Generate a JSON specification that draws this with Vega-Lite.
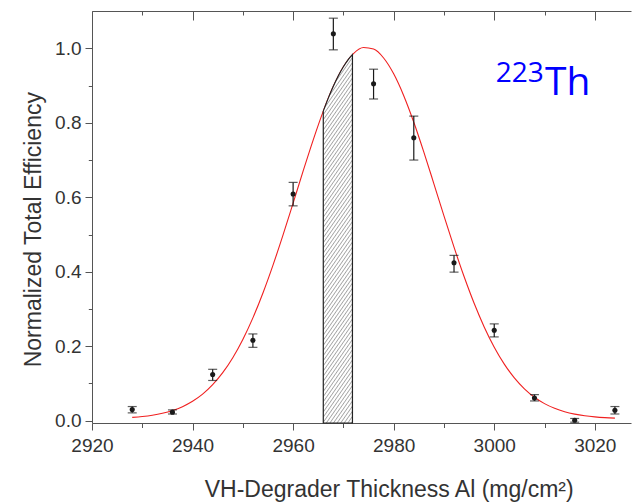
{
  "$schema": "https://vega.github.io/schema/vega-lite/v6.json",
  "width": 539,
  "height": 412,
  "autosize": {"type": "none"},
  "padding": {"left": 92, "top": 11, "right": 1, "bottom": 79},
  "background": "white",
  "config": {"view": {"stroke": null}, "font": "Liberation Sans"},
  "datasets": {
    "curve": [
      {"x": 2928, "y": 0.0089}, {"x": 2930, "y": 0.0112}, {"x": 2932, "y": 0.0147}, {"x": 2934, "y": 0.0199},
      {"x": 2936, "y": 0.0273}, {"x": 2938, "y": 0.0377}, {"x": 2940, "y": 0.0521}, {"x": 2942, "y": 0.0713},
      {"x": 2944, "y": 0.0966}, {"x": 2946, "y": 0.1289}, {"x": 2948, "y": 0.1691}, {"x": 2950, "y": 0.2181},
      {"x": 2952, "y": 0.2762}, {"x": 2954, "y": 0.343}, {"x": 2956, "y": 0.4179}, {"x": 2958, "y": 0.4991},
      {"x": 2960, "y": 0.5844}, {"x": 2962, "y": 0.6707}, {"x": 2964, "y": 0.7543}, {"x": 2966, "y": 0.8314},
      {"x": 2968, "y": 0.898}, {"x": 2970, "y": 0.9505}, {"x": 2972, "y": 0.9859}, {"x": 2974, "y": 1.0021},
      {"x": 2976, "y": 0.998}, {"x": 2978, "y": 0.974}, {"x": 2980, "y": 0.9315}, {"x": 2982, "y": 0.8729},
      {"x": 2984, "y": 0.8016}, {"x": 2986, "y": 0.7214}, {"x": 2988, "y": 0.6362}, {"x": 2990, "y": 0.55},
      {"x": 2992, "y": 0.466}, {"x": 2994, "y": 0.3871}, {"x": 2996, "y": 0.3153}, {"x": 2998, "y": 0.2519},
      {"x": 3000, "y": 0.1975}, {"x": 3002, "y": 0.152}, {"x": 3004, "y": 0.115}, {"x": 3006, "y": 0.0857},
      {"x": 3008, "y": 0.063}, {"x": 3010, "y": 0.0458}, {"x": 3012, "y": 0.0332}, {"x": 3014, "y": 0.024},
      {"x": 3016, "y": 0.0176}, {"x": 3018, "y": 0.0132}, {"x": 3020, "y": 0.0102}, {"x": 3022, "y": 0.0082},
      {"x": 3024, "y": 0.007}
    ],
    "band": [
      {"x": 2966, "y": 0.8314}, {"x": 2967, "y": 0.8663}, {"x": 2968, "y": 0.898}, {"x": 2969, "y": 0.9263},
      {"x": 2970, "y": 0.9505}, {"x": 2971, "y": 0.9705}, {"x": 2971.8, "y": 0.9832}
    ],
    "pts": [
      {"x": 2928, "y": 0.03, "lo": 0.021, "hi": 0.038},
      {"x": 2936, "y": 0.023, "lo": 0.018, "hi": 0.029},
      {"x": 2944, "y": 0.124, "lo": 0.108, "hi": 0.138},
      {"x": 2952, "y": 0.216, "lo": 0.197, "hi": 0.233},
      {"x": 2960, "y": 0.609, "lo": 0.577, "hi": 0.64},
      {"x": 2968, "y": 1.039, "lo": 0.996, "hi": 1.081},
      {"x": 2976, "y": 0.905, "lo": 0.864, "hi": 0.944},
      {"x": 2984, "y": 0.76, "lo": 0.7, "hi": 0.818},
      {"x": 2992, "y": 0.424, "lo": 0.399, "hi": 0.444},
      {"x": 3000, "y": 0.243, "lo": 0.225, "hi": 0.26},
      {"x": 3008, "y": 0.061, "lo": 0.053, "hi": 0.07},
      {"x": 3016, "y": 0.001, "lo": -0.004, "hi": 0.006},
      {"x": 3024, "y": 0.028, "lo": 0.018, "hi": 0.038}
    ]
  },
  "layer": [
    {
      "data": {"name": "curve"},
      "mark": {"type": "line", "color": "#f02020", "strokeWidth": 1.1, "interpolate": "monotone"},
      "encoding": {
        "x": {"field": "x", "type": "quantitative", "scale": {"domain": [2920, 3027.2], "nice": false, "zero": false},
          "axis": {"orient": "bottom", "values": [2920, 2940, 2960, 2980, 3000, 3020], "format": "d", "tickSize": 7, "tickColor": "#555", "tickWidth": 1,
            "domain": true, "domainColor": "#555", "domainWidth": 1, "grid": false, "labelFont": "Liberation Sans", "labelFontSize": 19, "labelColor": "#333",
            "labelPadding": 6, "labelFlush": false, "labelOverlap": false,
            "title": "VH-Degrader Thickness Al (mg/cm²)", "titleFont": "Liberation Sans", "titleFontSize": 23, "titleFontWeight": "normal", "titleColor": "#333",
            "titleX": 296.7, "titleY": 73.7, "titleAlign": "center", "titleBaseline": "alphabetic", "titleAngle": 0}},
        "y": {"field": "y", "type": "quantitative", "scale": {"domain": [-0.0062, 1.1003], "nice": false, "zero": false},
          "axis": {"orient": "left", "values": [0, 0.2, 0.4, 0.6, 0.8, 1.0], "format": ".1f", "tickSize": 7, "tickColor": "#555", "tickWidth": 1,
            "domain": true, "domainColor": "#555", "domainWidth": 1, "grid": false, "labelFont": "Liberation Sans", "labelFontSize": 19, "labelColor": "#333",
            "labelPadding": 4, "labelFlush": false, "labelOverlap": false,
            "title": "Normalized Total Efficiency", "titleFont": "Liberation Sans", "titleFontSize": 23, "titleFontWeight": "normal", "titleColor": "#333",
            "titleX": -52, "titleY": 218.2, "titleAngle": -90, "titleAlign": "center", "titleBaseline": "alphabetic"}}
      }
    },
    {
      "data": {"name": "band"},
      "mark": {"type": "area", "interpolate": "monotone", "stroke": "#222", "strokeWidth": 1.2,
        "fill": {"gradient": "linear", "x1": 0, "y1": 0, "x2": 0.1245, "y2": 1.0992, "stops": [
          {"offset": 0, "color": "#fff"},
          {"offset": 0.005, "color": "#fff"}, {"offset": 0.00875, "color": "#a4a4a4"}, {"offset": 0.0125, "color": "#fff"},
          {"offset": 0.0175, "color": "#fff"}, {"offset": 0.02125, "color": "#a4a4a4"}, {"offset": 0.025, "color": "#fff"},
          {"offset": 0.03, "color": "#fff"}, {"offset": 0.03375, "color": "#a4a4a4"}, {"offset": 0.0375, "color": "#fff"},
          {"offset": 0.0425, "color": "#fff"}, {"offset": 0.04625, "color": "#a4a4a4"}, {"offset": 0.05, "color": "#fff"},
          {"offset": 0.055, "color": "#fff"}, {"offset": 0.05875, "color": "#a4a4a4"}, {"offset": 0.0625, "color": "#fff"},
          {"offset": 0.0675, "color": "#fff"}, {"offset": 0.07125, "color": "#a4a4a4"}, {"offset": 0.075, "color": "#fff"},
          {"offset": 0.08, "color": "#fff"}, {"offset": 0.08375, "color": "#a4a4a4"}, {"offset": 0.0875, "color": "#fff"},
          {"offset": 0.0925, "color": "#fff"}, {"offset": 0.09625, "color": "#a4a4a4"}, {"offset": 0.1, "color": "#fff"},
          {"offset": 0.105, "color": "#fff"}, {"offset": 0.10875, "color": "#a4a4a4"}, {"offset": 0.1125, "color": "#fff"},
          {"offset": 0.1175, "color": "#fff"}, {"offset": 0.12125, "color": "#a4a4a4"}, {"offset": 0.125, "color": "#fff"},
          {"offset": 0.13, "color": "#fff"}, {"offset": 0.13375, "color": "#a4a4a4"}, {"offset": 0.1375, "color": "#fff"},
          {"offset": 0.1425, "color": "#fff"}, {"offset": 0.14625, "color": "#a4a4a4"}, {"offset": 0.15, "color": "#fff"},
          {"offset": 0.155, "color": "#fff"}, {"offset": 0.15875, "color": "#a4a4a4"}, {"offset": 0.1625, "color": "#fff"},
          {"offset": 0.1675, "color": "#fff"}, {"offset": 0.17125, "color": "#a4a4a4"}, {"offset": 0.175, "color": "#fff"},
          {"offset": 0.18, "color": "#fff"}, {"offset": 0.18375, "color": "#a4a4a4"}, {"offset": 0.1875, "color": "#fff"},
          {"offset": 0.1925, "color": "#fff"}, {"offset": 0.19625, "color": "#a4a4a4"}, {"offset": 0.2, "color": "#fff"},
          {"offset": 0.205, "color": "#fff"}, {"offset": 0.20875, "color": "#a4a4a4"}, {"offset": 0.2125, "color": "#fff"},
          {"offset": 0.2175, "color": "#fff"}, {"offset": 0.22125, "color": "#a4a4a4"}, {"offset": 0.225, "color": "#fff"},
          {"offset": 0.23, "color": "#fff"}, {"offset": 0.23375, "color": "#a4a4a4"}, {"offset": 0.2375, "color": "#fff"},
          {"offset": 0.2425, "color": "#fff"}, {"offset": 0.24625, "color": "#a4a4a4"}, {"offset": 0.25, "color": "#fff"},
          {"offset": 0.255, "color": "#fff"}, {"offset": 0.25875, "color": "#a4a4a4"}, {"offset": 0.2625, "color": "#fff"},
          {"offset": 0.2675, "color": "#fff"}, {"offset": 0.27125, "color": "#a4a4a4"}, {"offset": 0.275, "color": "#fff"},
          {"offset": 0.28, "color": "#fff"}, {"offset": 0.28375, "color": "#a4a4a4"}, {"offset": 0.2875, "color": "#fff"},
          {"offset": 0.2925, "color": "#fff"}, {"offset": 0.29625, "color": "#a4a4a4"}, {"offset": 0.3, "color": "#fff"},
          {"offset": 0.305, "color": "#fff"}, {"offset": 0.30875, "color": "#a4a4a4"}, {"offset": 0.3125, "color": "#fff"},
          {"offset": 0.3175, "color": "#fff"}, {"offset": 0.32125, "color": "#a4a4a4"}, {"offset": 0.325, "color": "#fff"},
          {"offset": 0.33, "color": "#fff"}, {"offset": 0.33375, "color": "#a4a4a4"}, {"offset": 0.3375, "color": "#fff"},
          {"offset": 0.3425, "color": "#fff"}, {"offset": 0.34625, "color": "#a4a4a4"}, {"offset": 0.35, "color": "#fff"},
          {"offset": 0.355, "color": "#fff"}, {"offset": 0.35875, "color": "#a4a4a4"}, {"offset": 0.3625, "color": "#fff"},
          {"offset": 0.3675, "color": "#fff"}, {"offset": 0.37125, "color": "#a4a4a4"}, {"offset": 0.375, "color": "#fff"},
          {"offset": 0.38, "color": "#fff"}, {"offset": 0.38375, "color": "#a4a4a4"}, {"offset": 0.3875, "color": "#fff"},
          {"offset": 0.3925, "color": "#fff"}, {"offset": 0.39625, "color": "#a4a4a4"}, {"offset": 0.4, "color": "#fff"},
          {"offset": 0.405, "color": "#fff"}, {"offset": 0.40875, "color": "#a4a4a4"}, {"offset": 0.4125, "color": "#fff"},
          {"offset": 0.4175, "color": "#fff"}, {"offset": 0.42125, "color": "#a4a4a4"}, {"offset": 0.425, "color": "#fff"},
          {"offset": 0.43, "color": "#fff"}, {"offset": 0.43375, "color": "#a4a4a4"}, {"offset": 0.4375, "color": "#fff"},
          {"offset": 0.4425, "color": "#fff"}, {"offset": 0.44625, "color": "#a4a4a4"}, {"offset": 0.45, "color": "#fff"},
          {"offset": 0.455, "color": "#fff"}, {"offset": 0.45875, "color": "#a4a4a4"}, {"offset": 0.4625, "color": "#fff"},
          {"offset": 0.4675, "color": "#fff"}, {"offset": 0.47125, "color": "#a4a4a4"}, {"offset": 0.475, "color": "#fff"},
          {"offset": 0.48, "color": "#fff"}, {"offset": 0.48375, "color": "#a4a4a4"}, {"offset": 0.4875, "color": "#fff"},
          {"offset": 0.4925, "color": "#fff"}, {"offset": 0.49625, "color": "#a4a4a4"}, {"offset": 0.5, "color": "#fff"},
          {"offset": 0.505, "color": "#fff"}, {"offset": 0.50875, "color": "#a4a4a4"}, {"offset": 0.5125, "color": "#fff"},
          {"offset": 0.5175, "color": "#fff"}, {"offset": 0.52125, "color": "#a4a4a4"}, {"offset": 0.525, "color": "#fff"},
          {"offset": 0.53, "color": "#fff"}, {"offset": 0.53375, "color": "#a4a4a4"}, {"offset": 0.5375, "color": "#fff"},
          {"offset": 0.5425, "color": "#fff"}, {"offset": 0.54625, "color": "#a4a4a4"}, {"offset": 0.55, "color": "#fff"},
          {"offset": 0.555, "color": "#fff"}, {"offset": 0.55875, "color": "#a4a4a4"}, {"offset": 0.5625, "color": "#fff"},
          {"offset": 0.5675, "color": "#fff"}, {"offset": 0.57125, "color": "#a4a4a4"}, {"offset": 0.575, "color": "#fff"},
          {"offset": 0.58, "color": "#fff"}, {"offset": 0.58375, "color": "#a4a4a4"}, {"offset": 0.5875, "color": "#fff"},
          {"offset": 0.5925, "color": "#fff"}, {"offset": 0.59625, "color": "#a4a4a4"}, {"offset": 0.6, "color": "#fff"},
          {"offset": 0.605, "color": "#fff"}, {"offset": 0.60875, "color": "#a4a4a4"}, {"offset": 0.6125, "color": "#fff"},
          {"offset": 0.6175, "color": "#fff"}, {"offset": 0.62125, "color": "#a4a4a4"}, {"offset": 0.625, "color": "#fff"},
          {"offset": 0.63, "color": "#fff"}, {"offset": 0.63375, "color": "#a4a4a4"}, {"offset": 0.6375, "color": "#fff"},
          {"offset": 0.6425, "color": "#fff"}, {"offset": 0.64625, "color": "#a4a4a4"}, {"offset": 0.65, "color": "#fff"},
          {"offset": 0.655, "color": "#fff"}, {"offset": 0.65875, "color": "#a4a4a4"}, {"offset": 0.6625, "color": "#fff"},
          {"offset": 0.6675, "color": "#fff"}, {"offset": 0.67125, "color": "#a4a4a4"}, {"offset": 0.675, "color": "#fff"},
          {"offset": 0.68, "color": "#fff"}, {"offset": 0.68375, "color": "#a4a4a4"}, {"offset": 0.6875, "color": "#fff"},
          {"offset": 0.6925, "color": "#fff"}, {"offset": 0.69625, "color": "#a4a4a4"}, {"offset": 0.7, "color": "#fff"},
          {"offset": 0.705, "color": "#fff"}, {"offset": 0.70875, "color": "#a4a4a4"}, {"offset": 0.7125, "color": "#fff"},
          {"offset": 0.7175, "color": "#fff"}, {"offset": 0.72125, "color": "#a4a4a4"}, {"offset": 0.725, "color": "#fff"},
          {"offset": 0.73, "color": "#fff"}, {"offset": 0.73375, "color": "#a4a4a4"}, {"offset": 0.7375, "color": "#fff"},
          {"offset": 0.7425, "color": "#fff"}, {"offset": 0.74625, "color": "#a4a4a4"}, {"offset": 0.75, "color": "#fff"},
          {"offset": 0.755, "color": "#fff"}, {"offset": 0.75875, "color": "#a4a4a4"}, {"offset": 0.7625, "color": "#fff"},
          {"offset": 0.7675, "color": "#fff"}, {"offset": 0.77125, "color": "#a4a4a4"}, {"offset": 0.775, "color": "#fff"},
          {"offset": 0.78, "color": "#fff"}, {"offset": 0.78375, "color": "#a4a4a4"}, {"offset": 0.7875, "color": "#fff"},
          {"offset": 0.7925, "color": "#fff"}, {"offset": 0.79625, "color": "#a4a4a4"}, {"offset": 0.8, "color": "#fff"},
          {"offset": 0.805, "color": "#fff"}, {"offset": 0.80875, "color": "#a4a4a4"}, {"offset": 0.8125, "color": "#fff"},
          {"offset": 0.8175, "color": "#fff"}, {"offset": 0.82125, "color": "#a4a4a4"}, {"offset": 0.825, "color": "#fff"},
          {"offset": 0.83, "color": "#fff"}, {"offset": 0.83375, "color": "#a4a4a4"}, {"offset": 0.8375, "color": "#fff"},
          {"offset": 0.8425, "color": "#fff"}, {"offset": 0.84625, "color": "#a4a4a4"}, {"offset": 0.85, "color": "#fff"},
          {"offset": 0.855, "color": "#fff"}, {"offset": 0.85875, "color": "#a4a4a4"}, {"offset": 0.8625, "color": "#fff"},
          {"offset": 0.8675, "color": "#fff"}, {"offset": 0.87125, "color": "#a4a4a4"}, {"offset": 0.875, "color": "#fff"},
          {"offset": 0.88, "color": "#fff"}, {"offset": 0.88375, "color": "#a4a4a4"}, {"offset": 0.8875, "color": "#fff"},
          {"offset": 0.8925, "color": "#fff"}, {"offset": 0.89625, "color": "#a4a4a4"}, {"offset": 0.9, "color": "#fff"},
          {"offset": 0.905, "color": "#fff"}, {"offset": 0.90875, "color": "#a4a4a4"}, {"offset": 0.9125, "color": "#fff"},
          {"offset": 0.9175, "color": "#fff"}, {"offset": 0.92125, "color": "#a4a4a4"}, {"offset": 0.925, "color": "#fff"},
          {"offset": 0.93, "color": "#fff"}, {"offset": 0.93375, "color": "#a4a4a4"}, {"offset": 0.9375, "color": "#fff"},
          {"offset": 0.9425, "color": "#fff"}, {"offset": 0.94625, "color": "#a4a4a4"}, {"offset": 0.95, "color": "#fff"},
          {"offset": 0.955, "color": "#fff"}, {"offset": 0.95875, "color": "#a4a4a4"}, {"offset": 0.9625, "color": "#fff"},
          {"offset": 0.9675, "color": "#fff"}, {"offset": 0.97125, "color": "#a4a4a4"}, {"offset": 0.975, "color": "#fff"},
          {"offset": 0.98, "color": "#fff"}, {"offset": 0.98375, "color": "#a4a4a4"}, {"offset": 0.9875, "color": "#fff"},
          {"offset": 0.9925, "color": "#fff"}, {"offset": 0.99625, "color": "#a4a4a4"}, {"offset": 1, "color": "#fff"}
        ]}},
      "encoding": {
        "x": {"field": "x", "type": "quantitative", "scale": {"domain": [2920, 3027.2], "nice": false, "zero": false},
          "axis": {"orient": "bottom", "values": [2930, 2950, 2970, 2990, 3010], "tickSize": 4.5, "tickColor": "#555", "tickWidth": 1, "labels": false, "domain": false, "grid": false, "title": null}},
        "y": {"field": "y", "type": "quantitative", "scale": {"domain": [-0.0062, 1.1003], "nice": false, "zero": false},
          "axis": {"orient": "left", "values": [0.1, 0.3, 0.5, 0.7, 0.9], "tickSize": 3.7, "tickColor": "#555", "tickWidth": 1, "labels": false, "domain": false, "grid": false, "title": null}},
        "y2": {"datum": -0.0062}
      }
    },
    {
      "data": {"name": "pts"},
      "mark": {"type": "rule", "color": "#1a1a1a", "strokeWidth": 1.2},
      "encoding": {
        "x": {"field": "x", "type": "quantitative", "scale": {"domain": [2920, 3027.2], "nice": false, "zero": false},
          "axis": {"orient": "top", "values": [2920, 2940, 2960, 2980, 3000, 3020], "tickSize": -9, "tickColor": "#555", "tickWidth": 1, "labels": false, "domain": true, "domainColor": "#555", "domainWidth": 1, "grid": false, "title": null}},
        "y": {"field": "lo", "type": "quantitative", "scale": {"domain": [-0.0062, 1.1003], "nice": false, "zero": false}, "axis": null},
        "y2": {"field": "hi"}
      }
    },
    {
      "data": {"name": "pts"},
      "mark": {"type": "tick", "orient": "horizontal", "color": "#1a1a1a", "size": 9, "thickness": 1.2},
      "encoding": {
        "x": {"field": "x", "type": "quantitative", "scale": {"domain": [2920, 3027.2], "nice": false, "zero": false},
          "axis": {"orient": "top", "values": [2930, 2950, 2970, 2990, 3010], "tickSize": -4, "tickColor": "#555", "tickWidth": 1, "labels": false, "domain": false, "grid": false, "title": null}},
        "y": {"field": "lo", "type": "quantitative", "scale": {"domain": [-0.0062, 1.1003], "nice": false, "zero": false}, "axis": null}
      }
    },
    {
      "data": {"name": "pts"},
      "mark": {"type": "tick", "orient": "horizontal", "color": "#1a1a1a", "size": 9, "thickness": 1.2},
      "encoding": {
        "x": {"field": "x", "type": "quantitative", "scale": {"domain": [2920, 3027.2], "nice": false, "zero": false}, "axis": null},
        "y": {"field": "hi", "type": "quantitative", "scale": {"domain": [-0.0062, 1.1003], "nice": false, "zero": false}, "axis": null}
      }
    },
    {
      "data": {"name": "pts"},
      "mark": {"type": "circle", "color": "#1a1a1a", "size": 26, "opacity": 1},
      "encoding": {
        "x": {"field": "x", "type": "quantitative", "scale": {"domain": [2920, 3027.2], "nice": false, "zero": false}, "axis": null},
        "y": {"field": "y", "type": "quantitative", "scale": {"domain": [-0.0062, 1.1003], "nice": false, "zero": false}, "axis": null}
      }
    },
    {
      "data": {"values": [{"label": "223"}]},
      "mark": {"type": "text", "font": "Open Sans", "fontSize": 28, "color": "#0000ff", "align": "left", "baseline": "alphabetic"},
      "encoding": {
        "x": {"datum": 3000.3, "type": "quantitative", "scale": {"domain": [2920, 3027.2], "nice": false, "zero": false}, "axis": null},
        "y": {"datum": 0.91, "type": "quantitative", "scale": {"domain": [-0.0062, 1.1003], "nice": false, "zero": false}, "axis": null},
        "text": {"field": "label"}
      }
    },
    {
      "data": {"values": [{"label": "Th"}]},
      "mark": {"type": "text", "font": "Open Sans", "fontSize": 39, "color": "#0000ff", "align": "left", "baseline": "alphabetic"},
      "encoding": {
        "x": {"datum": 3010.1, "type": "quantitative", "scale": {"domain": [2920, 3027.2], "nice": false, "zero": false}, "axis": null},
        "y": {"datum": 0.8746, "type": "quantitative", "scale": {"domain": [-0.0062, 1.1003], "nice": false, "zero": false}, "axis": null},
        "text": {"field": "label"}
      }
    }
  ],
  "resolve": {"axis": {"x": "independent", "y": "independent"}}
}
